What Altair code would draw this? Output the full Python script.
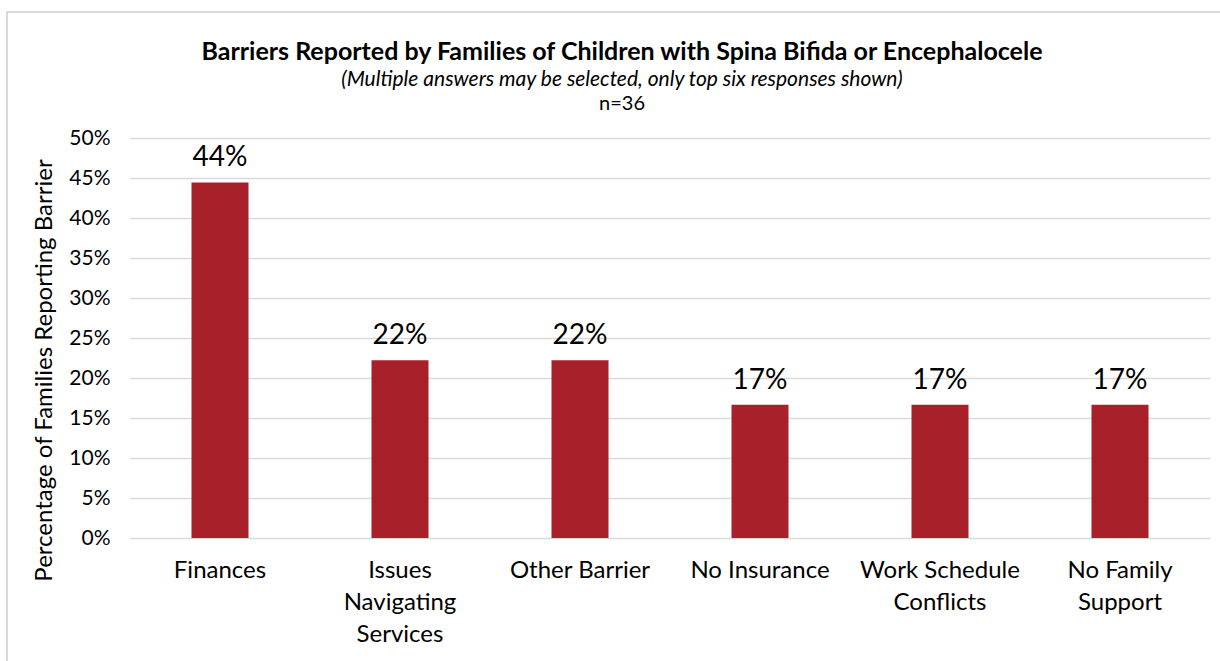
import altair as alt
import pandas as pd

categories = ["Finances", "Issues\nNavigating\nServices", "Other Barrier", "No Insurance", "Work Schedule\nConflicts", "No Family\nSupport"]
values = [16/36, 8/36, 8/36, 6/36, 6/36, 6/36]
labels = ["44%", "22%", "22%", "17%", "17%", "17%"]
y_ticks = [0, 0.05, 0.10, 0.15, 0.20, 0.25, 0.30, 0.35, 0.40, 0.45, 0.50]

df = pd.DataFrame({"cat": categories, "val": values, "lab": labels})

FONT = "Lato"
RED = "#A8202A"
GRID = "#D9D9D9"

x = alt.X("cat:N", sort=categories, title=None,
          scale=alt.Scale(paddingInner=0, paddingOuter=0),
          axis=alt.Axis(labelAngle=0, labelExpr="split(datum.label, '\\n')",
                        labelFont=FONT, labelFontSize=24, labelColor="#000",
                        labelLineHeight=32, labelPadding=20, labelBaseline="top",
                        labelOverlap=False, labelLimit=300,
                        domain=False, ticks=False, grid=False))
y = alt.Y("val:Q", title="Percentage of Families Reporting Barrier",
          scale=alt.Scale(domain=[0, 0.5], nice=False),
          axis=alt.Axis(format=".0%", values=y_ticks, labelOverlap=False,
                        labelFont=FONT, labelFontSize=21, labelColor="#000", labelPadding=20,
                        titleFont=FONT, titleFontSize=24, titleFontWeight="normal", titleColor="#000",
                        titleAngle=-90, titleX=-98, titleY=232, titleAlign="center", titleBaseline="top",
                        titleLimit=600,
                        grid=True, gridColor=GRID, gridWidth=1.5, domain=False, ticks=False))

base = alt.Chart(df)
bars = base.mark_bar(size=57, color=RED).encode(x=x, y=y)
texts = base.mark_text(font=FONT, fontSize=28, dy=-24, color="#000").encode(
    x=x, y=y, text="lab:N")

frame = alt.Chart(pd.DataFrame({"a": [0]})).mark_rect(fill=None, stroke=GRID, strokeWidth=2).encode(
    x=alt.value(-123), x2=alt.value(1200), y=alt.value(-126), y2=alt.value(600))

title_df = pd.DataFrame({"t": ["Barriers Reported by Families of Children with Spina Bifida or Encephalocele"]})
title = alt.Chart(title_df).mark_text(font=FONT, fontSize=25, fontWeight="bold", color="#000").encode(
    x=alt.value(492), y=alt.value(-86), text="t:N")
sub = alt.Chart(pd.DataFrame({"t": ["(Multiple answers may be selected, only top six responses shown)"]})).mark_text(
    font=FONT, fontSize=21, fontStyle="italic", color="#000").encode(
    x=alt.value(492), y=alt.value(-58), text="t:N")
n = alt.Chart(pd.DataFrame({"t": ["n=36"]})).mark_text(font=FONT, fontSize=20, color="#000").encode(
    x=alt.value(492), y=alt.value(-34), text="t:N")

chart = alt.layer(frame, bars, texts, title, sub, n).properties(
    width=1080, height=400,
    autosize=alt.AutoSizeParams(type="none"),
    padding={"left": 130, "top": 138, "right": 10, "bottom": 123},
    background="white",
).configure_view(stroke=None)

chart.save("out.html", embed_options={"renderer": "svg", "actions": False})
